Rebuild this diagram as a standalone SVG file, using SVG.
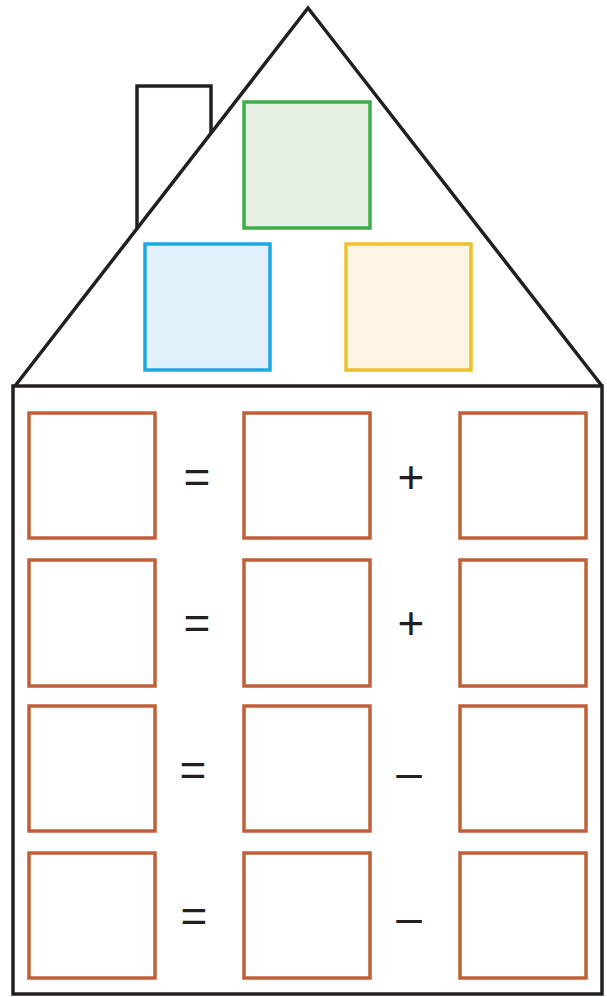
<svg xmlns="http://www.w3.org/2000/svg" width="607" height="997" viewBox="0 0 607 997">
<style>
.ln{fill:none;stroke:#231f20;stroke-width:3.5;stroke-linejoin:miter}
.bx{fill:#ffffff;stroke:#c0603a;stroke-width:3.5}
.sym{font-family:"Liberation Sans",Arial,sans-serif;font-size:46px;fill:#231f20;text-anchor:middle}
</style>
<rect width="607" height="997" fill="#ffffff"/>
<g id="house">
<path class="ln" d="M137,228 V86 H211 V133"/>
<path class="ln" d="M15,386 L308,8 L602,386"/>
<rect class="ln" x="13" y="386" width="589" height="608" fill="#ffffff"/>
</g>
<g id="roof-green"><rect x="244" y="102" width="126" height="126" fill="#e6f0e3" stroke="#3fae49" stroke-width="3.5"/></g>
<g id="roof-blue"><rect x="145" y="244" width="125" height="126" fill="#e0f1fb" stroke="#1ba9e1" stroke-width="3.5"/></g>
<g id="roof-yellow"><rect x="346" y="244" width="125" height="126" fill="#fdf5e4" stroke="#ecc12e" stroke-width="3.5"/></g>
<g id="row1">
<rect class="bx" x="29" y="413" width="126" height="125"/>
<rect class="bx" x="244" y="413" width="126" height="125"/>
<rect class="bx" x="460" y="413" width="126" height="125"/>
<text class="sym" x="197" y="493">=</text>
<text class="sym" x="411" y="493">+</text>
</g>
<g id="row2">
<rect class="bx" x="29" y="560" width="126" height="126"/>
<rect class="bx" x="244" y="560" width="126" height="126"/>
<rect class="bx" x="460" y="560" width="126" height="126"/>
<text class="sym" x="197" y="639">=</text>
<text class="sym" x="411" y="639">+</text>
</g>
<g id="row3">
<rect class="bx" x="29" y="706" width="126" height="125"/>
<rect class="bx" x="244" y="706" width="126" height="125"/>
<rect class="bx" x="460" y="706" width="126" height="125"/>
<text class="sym" x="193" y="786">=</text>
<text class="sym" x="409" y="788">–</text>
</g>
<g id="row4">
<rect class="bx" x="29" y="853" width="126" height="125"/>
<rect class="bx" x="244" y="853" width="126" height="125"/>
<rect class="bx" x="460" y="853" width="126" height="125"/>
<text class="sym" x="194" y="932">=</text>
<text class="sym" x="409" y="933">–</text>
</g>
<g id="connectors"></g>
</svg>
